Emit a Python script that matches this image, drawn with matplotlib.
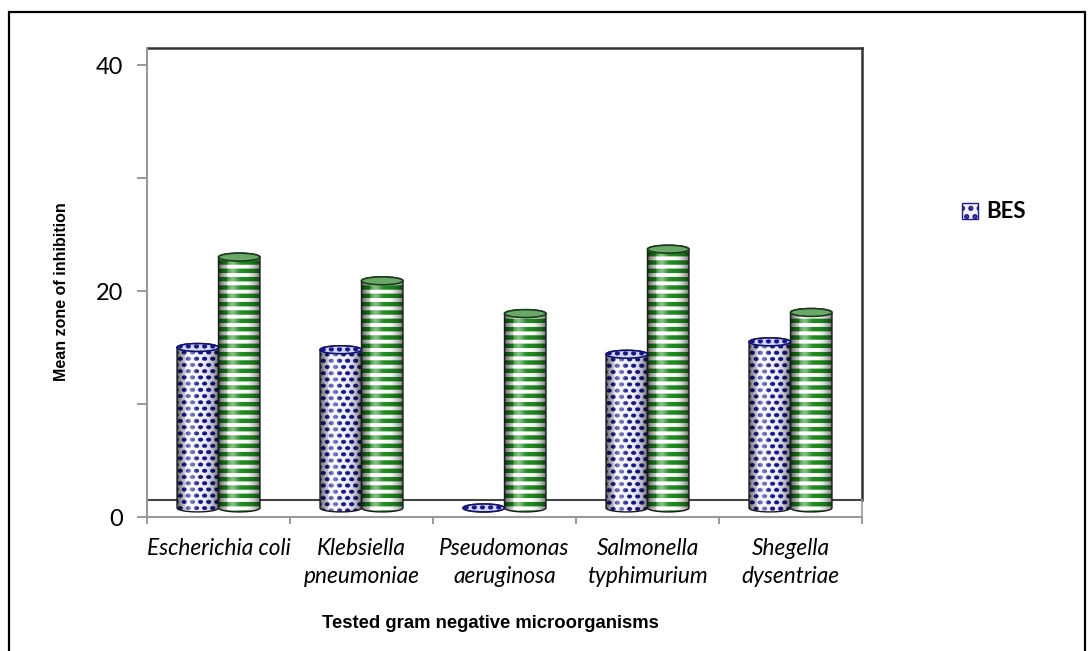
import numpy as np
import matplotlib
matplotlib.use('Agg')
import matplotlib.pyplot as plt
from matplotlib.patches import PathPatch, Ellipse, Rectangle
from matplotlib.path import Path

# data
organisms = ['Escherichia coli', 'Klebsiella\npneumoniae', 'Pseudomonas\naeruginosa',
             'Salmonella\ntyphimurium', 'Shegella\ndysentriae']
bes = [14.2, 14.0, 0.0, 13.6, 14.7]
ref = [22.2, 20.1, 17.2, 22.9, 17.3]

floor = 0.8      # cylinders stand a bit behind the front axis line
bar_w = 0.29     # category units
ry = 0.35        # half height of the cylinder ellipses (data units)

fig = plt.figure(figsize=(10.88, 6.51), dpi=100)
ax = fig.add_axes([147/1088, 134/651, 715/1088, 452/651])
ax.set_xlim(0, 5)
ax.set_ylim(0, 40)


def dot_texture(wpx, hpx, color=(0.08, 0.08, 0.58)):
    # staggered navy dots, like the Excel fill pattern
    s = 3
    H, W = max(int(hpx*s), 2), max(int(wpx*s), 2)
    v, u = np.mgrid[0:H, 0:W] / s
    row = np.floor(v / 6.2)
    du = np.mod(u - (row % 2)*4 + 1, 8) - 4
    dv = np.mod(v, 6.2) - 3.1
    mask = (du/2.6)**2 + (dv/2.0)**2 <= 1
    img = np.zeros((H, W, 4))
    img[..., :3] = color
    img[..., 3] = mask * 1.0
    return img


def cylinder(x, h, face, hatch, hcolor, hlw, top_face, top_edge):
    y0, y1 = floor, floor + h
    a = bar_w / 2
    t1 = np.linspace(np.pi, 2*np.pi, 40)
    t2 = np.linspace(0, np.pi, 40)
    pts = np.vstack([np.column_stack([x + a*np.cos(t1), y0 + ry*np.sin(t1)]),
                     np.column_stack([x + a*np.cos(t2), y1 + ry*np.sin(t2)])])
    path = Path(np.vstack([pts, pts[:1]]), closed=True)
    ax.add_patch(PathPatch(path, facecolor=face, edgecolor='none', zorder=3))
    ext = (x-a, x+a, y0-ry, y1+ry)
    (px0, py0), (px1, py1) = ax.transData.transform([(ext[0], ext[2]), (ext[1], ext[3])])
    clip = PathPatch(path, facecolor='none', edgecolor='none', transform=ax.transData)
    if hatch == 'dots':
        tex = ax.imshow(dot_texture(px1 - px0, py1 - py0), extent=ext, aspect='auto',
                        zorder=4, interpolation='antialiased')
        tex.set_clip_path(clip)
    else:
        plt.rcParams['hatch.linewidth'] = hlw
        ax.add_patch(PathPatch(path, facecolor='none', edgecolor=hcolor, hatch=hatch, lw=0,
                               zorder=4))
    # side shading to look round: dark rims, soft highlight left of centre
    t = np.linspace(-1, 1, 80)
    img = np.zeros((2, 80, 4))
    dark = 0.6*np.abs(t)**2.5
    light = 0.45*np.exp(-((t + 0.35)/0.25)**2)
    img[..., :3] = (light > dark)[None, :, None] * 1.0
    img[..., 3] = np.maximum(dark, light)
    im = ax.imshow(img, extent=ext, aspect='auto', zorder=5, interpolation='bilinear')
    im.set_clip_path(clip)
    ax.add_patch(PathPatch(path, facecolor='none', edgecolor='#1a1a1a', lw=1.0, zorder=6))
    top = Ellipse((x, y1), bar_w, 2*ry, facecolor=top_face, edgecolor=top_edge, lw=1.2, zorder=7)
    ax.add_patch(top)
    if hatch == 'dots':
        tt = ax.imshow(dot_texture(px1 - px0, 2*ry*(py1 - py0)/(y1 - y0 + 2*ry)),
                       extent=(x-a, x+a, y1-ry, y1+ry), aspect='auto', zorder=7.5,
                       interpolation='antialiased')
        tt.set_clip_path(top)


for i in range(len(organisms)):
    c = i + 0.5
    cylinder(c - bar_w/2, bes[i], '#f4f5fc', 'dots', '#1a1a96', 1.0, '#d4d7ef', '#12126a')
    cylinder(c + bar_w/2, ref[i], 'white', '--', '#1f8a1f', 3.2, '#6aa86a', '#1b3d1b')

ax.set_xlim(0, 5)
ax.set_ylim(0, 40)

# 3d-ish back wall and floor
ax.plot([0, 5], [41.5, 41.5], color='#333333', lw=1.8, clip_on=False, zorder=2)
ax.plot([5, 5], [1.5, 41.5], color='#333333', lw=1.8, clip_on=False, zorder=2)
ax.plot([0, 5], [1.5, 1.5], color='#444444', lw=1.5, clip_on=False, zorder=2)
ax.plot([5, 5], [-0.2, 1.5], color='#999999', lw=1.2, clip_on=False, zorder=2)

for s in ['top', 'right']:
    ax.spines[s].set_visible(False)
ax.spines['left'].set_color('#999999')
ax.spines['left'].set_linewidth(1.5)
ax.spines['left'].set_bounds(0, 41.5)
ax.spines['bottom'].set_color('#999999')
ax.spines['bottom'].set_linewidth(1.5)

ax.set_yticks([0, 10, 20, 30, 40])
ax.set_yticklabels(['0', '', '20', '', '40'], fontsize=17, family='Lato')
ax.tick_params(axis='y', length=7, width=1.2, color='#888888', pad=10)
ax.set_xticks(range(6))
ax.set_xticklabels([])
ax.tick_params(axis='x', which='major', length=5, width=1.2, color='#888888')
ax.set_xticks([i + 0.5 for i in range(5)], minor=True)
ax.set_xticklabels(organisms, minor=True, fontsize=16.3, style='italic', family='Lato',
                   linespacing=1.45)
ax.tick_params(axis='x', which='minor', length=0, pad=15)

fig.text(62/1088, 1 - 292/651, 'Mean zone of inhibition', rotation=90, ha='center',
         va='center', fontsize=11.5, fontweight='bold', family='Liberation Sans')
fig.text(490/1088, 1 - 623/651, 'Tested gram negative microorganisms', ha='center',
         va='center', fontsize=13.3, fontweight='bold', family='Liberation Sans')

# legend shows only the BES entry, as in the original
plt.rcParams['hatch.linewidth'] = 2.5
h = Rectangle((0, 0), 1, 1, facecolor='#f2f3fb', edgecolor='#1a1a96', hatch='..')
leg = fig.legend([h], ['BES'], loc='center left', bbox_to_anchor=(942/1088, 1 - 212/651),
                 frameon=False, handlelength=0.7, handleheight=0.7, handletextpad=0.4,
                 prop={'family': 'Lato', 'weight': 'bold', 'size': 16})

# outer frame
fig.patches.append(Rectangle((9/1088, -0.02), 1076/1088, 0.02 + 639/651, transform=fig.transFigure,
                             fill=False, edgecolor='black', lw=1.6))

fig.savefig('out.png', dpi=100)
